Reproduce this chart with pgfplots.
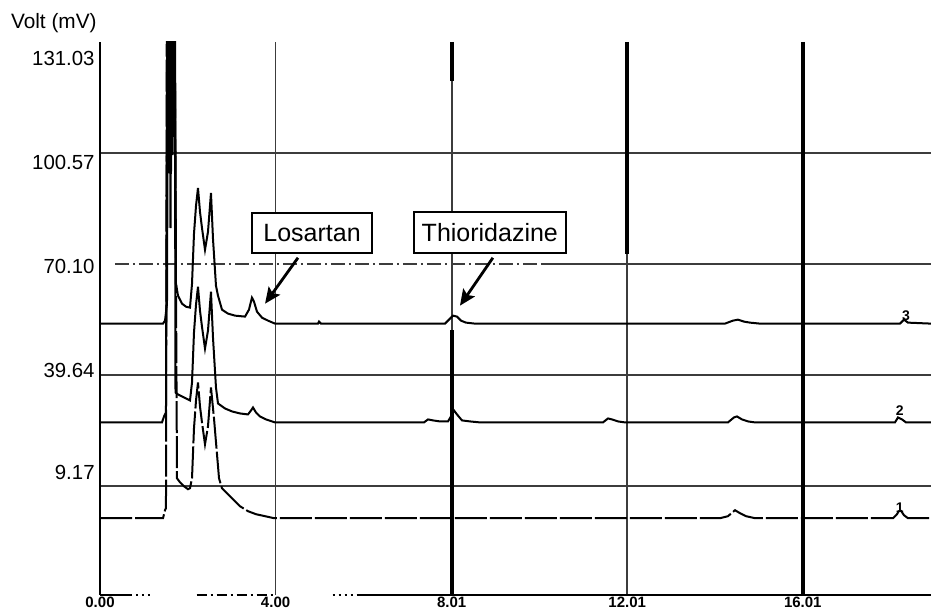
\documentclass[border=0pt]{standalone}
\usepackage{fontspec}
\setmainfont{Liberation Sans}
\usepackage{pgfplots}
\pgfplotsset{compat=1.18}
\usetikzlibrary{arrows.meta}
\definecolor{gridgray}{HTML}{3C3C3C}

% three detector traces (mV vs min), offset as in the recorder output
\pgfplotstableread{
x y
0 53.78
1.435 53.78
1.481 54.60
1.526 59.25
1.549 140
1.572 100
1.595 140
1.617 94.83
1.640 140
1.663 105
1.686 140
1.708 140
1.731 64.73
1.777 61.44
1.868 59.25
1.959 58.43
2.050 58.16
2.096 64.73
2.141 78.41
2.187 86.07
2.232 91.00
2.278 84.43
2.323 80.05
2.392 74.03
2.460 78.96
2.528 89.63
2.574 77.04
2.642 64.18
2.688 61.44
2.779 57.61
2.916 56.52
3.075 55.97
3.303 55.70
3.394 57.61
3.462 60.89
3.508 59.80
3.576 57.06
3.690 55.42
3.827 54.60
3.986 53.78
4.966 53.78
4.989 54.33
5.034 53.78
7.859 53.78
7.950 54.87
8.041 55.97
8.132 55.70
8.223 54.60
8.337 54.05
8.542 53.78
14.237 53.78
14.419 54.60
14.533 54.87
14.670 54.33
14.806 54.05
15.034 53.78
18.223 53.78
18.314 54.87
18.405 54.05
18.929 53.78
}\traceC

\pgfplotstableread{
x y
0 26.68
1.412 26.68
1.458 28.32
1.503 29.42
1.538 170
1.561 95
1.584 170
1.606 80
1.629 170
1.652 100
1.675 170
1.700 170
1.720 34.89
1.777 34.34
1.868 33.79
1.959 33.25
2.050 32.70
2.096 37.63
2.141 51.31
2.187 58.97
2.232 63.90
2.278 57.33
2.323 52.95
2.392 46.93
2.460 51.86
2.528 62.53
2.574 49.94
2.642 36.26
2.688 31.88
2.847 30.51
3.007 29.69
3.189 29.14
3.371 28.87
3.440 29.96
3.485 30.78
3.553 29.42
3.645 28.32
3.781 27.50
3.986 26.68
7.380 26.68
7.472 27.50
7.585 27.23
7.745 26.95
7.927 26.95
7.995 28.32
8.064 29.96
8.132 28.87
8.246 27.23
8.428 26.95
8.656 26.68
11.458 26.68
11.572 27.77
11.663 27.50
11.800 26.95
11.959 26.68
14.305 26.68
14.442 28.05
14.510 28.32
14.624 27.50
14.761 26.95
14.920 26.68
18.109 26.68
18.178 28.05
18.269 27.50
18.360 26.68
18.929 26.68
}\traceB

\pgfplotstableread{
x y
0 0.41
1.435 0.41
1.481 2.60
1.503 3.15
1.526 170
1.572 170
1.617 170
1.686 170
1.754 11.36
1.822 10.26
1.913 9.17
2.005 8.35
2.050 8.62
2.096 11.36
2.141 25.04
2.187 32.70
2.232 37.63
2.278 31.06
2.323 26.68
2.392 20.66
2.460 25.59
2.528 36.26
2.597 27.77
2.711 11.36
2.779 8.62
2.870 7.52
3.007 5.88
3.189 3.69
3.371 2.33
3.553 1.50
3.759 0.96
3.964 0.41
14.123 0.41
14.305 0.96
14.465 2.60
14.579 1.78
14.715 0.96
14.920 0.41
18.064 0.41
18.155 1.50
18.223 2.87
18.314 1.23
18.405 0.41
18.929 0.41
}\traceA

\begin{document}
\begin{tikzpicture}
\begin{axis}[
  name=ax, scale only axis,
  width=415.5pt, height=276.5pt,
  xmin=0, xmax=18.93, ymin=-20.66, ymax=131.03,
  clip mode=individual,
  axis line style={draw=none},
  tick style={draw=none}, major tick length=0pt,
  grid style={gridgray, line width=0.9pt},
  xtick={0,4,8.01,12.01,16.01},
  xticklabels={0.00,4.00,8.01,12.01,16.01},
  xmajorgrids=true,
  ytick={12.86,40.91,69.51,97.97,126.43},
  yticklabels={9.17,39.64,70.10,100.57,131.03},
  extra y ticks={9.17,39.64,100.57},
  extra y tick labels={},
  extra y tick style={grid=major},
  yticklabel style={font=\fontsize{10.2}{12}\selectfont, inner sep=0pt, xshift=-2.5pt},
  xticklabel style={font=\bfseries\fontsize{7.5}{8}\selectfont, inner sep=0pt, yshift=-1pt},
]
% grid line at 70.10, partly dash-dotted
\draw[gridgray, line width=0.9pt, dash pattern=on 7pt off 2pt on 1pt off 2pt] (axis cs:0.34,70.10) -- (axis cs:10.09,70.10);
\draw[gridgray, line width=0.9pt] (axis cs:10.09,70.10) -- (axis cs:18.93,70.10);
% heavier parts of the time markers
\draw[black, line width=2pt] (axis cs:8.01,131.03) -- (axis cs:8.01,120.3);
\draw[black, line width=2pt] (axis cs:8.01,52) -- (axis cs:8.01,-20.66);
\draw[black, line width=2pt] (axis cs:12.01,131.03) -- (axis cs:12.01,72.9);
\draw[black, line width=2pt] (axis cs:16.01,131.03) -- (axis cs:16.01,-20.66);
% axis lines
\draw[black, line width=1.4pt] (axis cs:0,-20.66) -- (axis cs:0,131.03);
\draw[black, line width=1pt] (axis cs:0,-20.66) -- (axis cs:0.68,-20.66);
\draw[black, line width=1pt, dotted] (axis cs:0.68,-20.66) -- (axis cs:1.15,-20.66);
\draw[black, line width=1pt, dash pattern=on 5pt off 2pt on 1pt off 2pt] (axis cs:2.2,-20.66) -- (axis cs:4.0,-20.66);
\draw[black, line width=1pt, dotted] (axis cs:5.3,-20.66) -- (axis cs:5.9,-20.66);
\draw[black, line width=1pt] (axis cs:5.9,-20.66) -- (axis cs:18.93,-20.66);

\addplot[black, line width=1pt] table {\traceC};
\addplot[black, line width=1pt] table {\traceB};
\addplot[black, line width=1pt, dash pattern=on 16pt off 1.5pt] table {\traceA};

\node[font=\bfseries\fontsize{7}{8}\selectfont, anchor=south, inner sep=0.5pt] at (axis cs:18.36,54.3) {3};
\node[font=\bfseries\fontsize{7}{8}\selectfont, anchor=south, inner sep=0.5pt] at (axis cs:18.22,28.2) {2};
\node[font=\bfseries\fontsize{7}{8}\selectfont, anchor=south, inner sep=0.5pt] at (axis cs:18.22,1.6) {1};

\node[draw=black, fill=white, line width=0.9pt, minimum width=60pt, minimum height=20pt, inner sep=0pt,
  font=\fontsize{12.5}{14}\selectfont] at (axis cs:4.83,78.68) {Losartan};
\node[draw=black, fill=white, line width=0.9pt, minimum width=76pt, minimum height=20.5pt, inner sep=0pt,
  font=\fontsize{12.5}{14}\selectfont] at (axis cs:8.88,78.81) {Thioridazine};
\draw[black, line width=1.4pt, -{Stealth[length=8pt,width=7pt,inset=1.5pt]}] (axis cs:4.51,71.84) -- (axis cs:3.76,59.25);
\draw[black, line width=1.4pt, -{Stealth[length=8pt,width=7pt,inset=1.5pt]}] (axis cs:8.95,71.84) -- (axis cs:8.20,58.70);
\end{axis}
\node[anchor=east, inner sep=0pt, font=\fontsize{10.4}{12}\selectfont] at ([xshift=-1.5pt,yshift=9.5pt]ax.north west) {Volt (mV)};
\pgfresetboundingbox
\path[use as bounding box] ([xshift=-50pt,yshift=-7pt]ax.south west) rectangle ([yshift=21pt]ax.north east);
\end{tikzpicture}
\end{document}
